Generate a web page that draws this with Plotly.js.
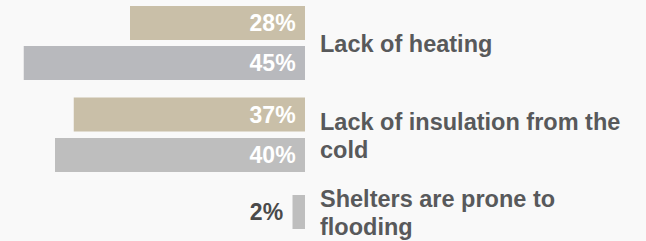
<!DOCTYPE html>
<html><head><meta charset="utf-8">
<script src="https://cdn.plot.ly/plotly-3.0.1.min.js"></script>
<style>
html,body{margin:0;padding:0;background:#f9f9f9;}
</style>
</head><body><div id="chart" style="width:646px;height:241px;"></div>
<script>
// ---- data ----
const categories = ['Lack of heating', 'Lack of insulation from the<br>cold', 'Shelters are prone to<br>flooding'];
const tanValues = [28, 37, null];
const grayValues = [45, 40, 2];

// ---- styling / layout constants ----
const FONT = '"Liberation Sans", Arial, sans-serif';
const TAN = '#c9bfa8';
const GRAYS = ['#b8b9bd', '#bebebe', '#bebebe'];
const LABEL_COLOR = '#58595b';
const PX = 91.5;              // pixels per category step
const BAR_W = 34 / PX;
const TAN_OFF = -37 / PX;
const GRAY_OFF = [3 / PX, 3.5 / PX, -31 / PX];
const LINE = 28.5;             // label line spacing (px)
const PCT_SIZE = 23;
const LABEL_SIZE = 23.5;

const common = {
  type: 'bar', orientation: 'h', y: categories,
  width: BAR_W, texttemplate: '%{x}%\u00a0',
  insidetextanchor: 'start', constraintext: 'none', textangle: 0,
  cliponaxis: false, hoverinfo: 'skip',
  insidetextfont: {family: FONT, size: PCT_SIZE, color: '#ffffff', weight: 'bold'},
  outsidetextfont: {family: FONT, size: PCT_SIZE, color: '#4a4a4a', weight: 'bold'},
  textfont: {family: FONT, size: PCT_SIZE, weight: 'bold'}
};

const traces = [
  Object.assign({}, common, {
    x: tanValues, offset: TAN_OFF, marker: {color: TAN},
    textposition: 'inside'
  }),
  Object.assign({}, common, {
    x: grayValues, offset: GRAY_OFF, marker: {color: GRAYS},
    textposition: grayValues.map(v => v < 10 ? 'outside' : 'inside')
  })
];

// category label annotations, centred on the bars present in each row
const annotations = [];
categories.forEach((cat, i) => {
  const tops = [], bots = [];
  if (tanValues[i] != null) { tops.push(TAN_OFF); bots.push(TAN_OFF + BAR_W); }
  if (grayValues[i] != null) { tops.push(GRAY_OFF[i]); bots.push(GRAY_OFF[i] + BAR_W); }
  const center = i + (Math.min(...tops) + Math.max(...bots)) / 2;
  const lines = cat.split('<br>');
  lines.forEach((ln, k) => {
    annotations.push({
      xref: 'paper', yref: 'y', x: 318 / 646, y: center,
      xanchor: 'left', yanchor: 'middle', showarrow: false,
      yshift: -1 - (k - (lines.length - 1) / 2) * LINE,
      text: ln, align: 'left',
      font: {family: FONT, size: LABEL_SIZE, color: LABEL_COLOR, weight: 'bold'}
    });
  });
});

const layout = {
  width: 646, height: 241,
  margin: {l: 0, r: 0, t: 0, b: 0, pad: 0},
  paper_bgcolor: '#f9f9f9', plot_bgcolor: '#f9f9f9',
  showlegend: false, barmode: 'overlay',
  font: {family: FONT, weight: 'bold'},
  xaxis: {domain: [0, 305 / 646], range: [48.8, 0], visible: false, fixedrange: true},
  yaxis: {type: 'category', categoryarray: categories, categoryorder: 'array',
          range: [(241 - 43) / PX, -43 / PX], visible: false, fixedrange: true},
  annotations: annotations
};

Plotly.newPlot('chart', traces, layout, {displayModeBar: false, staticPlot: true});
</script>
</body></html>
